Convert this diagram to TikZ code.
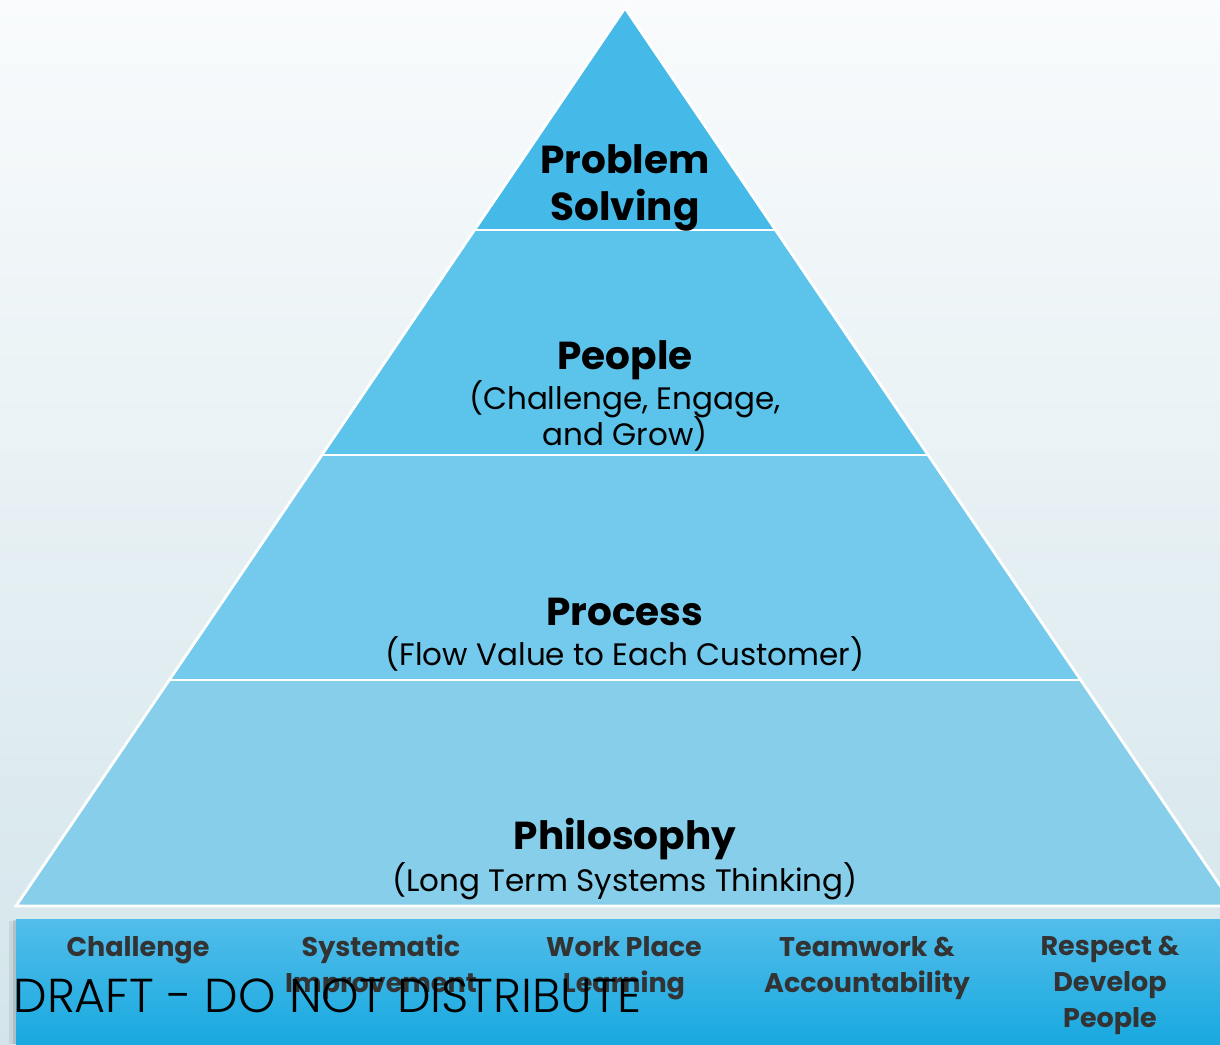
\documentclass[tikz,border=0pt]{standalone}
\usepackage{fontspec}
\setmainfont{Poppins}
\newfontfamily\draftfont{Poppins Light}
\usetikzlibrary{calc, positioning}
\definecolor{bgtop}{HTML}{F9FBFC}
\definecolor{bgbot}{HTML}{D3E5EB}
\definecolor{tierA}{HTML}{45B9E7}
\definecolor{tierB}{HTML}{5CC3EA}
\definecolor{tierC}{HTML}{74CAEC}
\definecolor{tierD}{HTML}{86CEEA}
\definecolor{bandtop}{HTML}{52BDEA}
\definecolor{bandbot}{HTML}{18A9E0}
\definecolor{labelgray}{HTML}{333333}

\begin{document}
\begin{tikzpicture}[x=0.5pt, y=-0.5pt,
    tier/.style={draw=white, line width=1.4pt},
    tiertitle/.style={font=\bfseries\fontsize{19.5}{23.5}\selectfont, align=center, inner sep=0pt},
    tiersub/.style={font=\fontsize{15.5}{17.5}\selectfont, align=center, inner sep=0pt},
    pillar/.style={font=\bfseries\fontsize{13.5}{18}\selectfont, text=labelgray, align=center, inner sep=0pt, anchor=north}]
    \useasboundingbox (0,0) rectangle (1220,1044);
    \clip (0,0) rectangle (1220,1044);
    \shade[top color=bgtop, bottom color=bgbot] (0,0) rectangle (1220,1044);

    % pyramid corners
    \coordinate (apex) at (625,8);
    \coordinate (bl) at (16,906);
    \coordinate (br) at (1234,906);
    \coordinate (l1) at ($(apex)!0.2472!(bl)$);
    \coordinate (r1) at ($(apex)!0.2472!(br)$);
    \coordinate (l2) at ($(apex)!0.4978!(bl)$);
    \coordinate (r2) at ($(apex)!0.4978!(br)$);
    \coordinate (l3) at ($(apex)!0.7483!(bl)$);
    \coordinate (r3) at ($(apex)!0.7483!(br)$);

    \fill[tierD] (l3) -- (r3) -- (br) -- (bl) -- cycle;
    \fill[tierC] (l2) -- (r2) -- (r3) -- (l3) -- cycle;
    \fill[tierB] (l1) -- (r1) -- (r2) -- (l2) -- cycle;
    \fill[tierA] (apex) -- (r1) -- (l1) -- cycle;
    \draw[tier] (apex) -- (br) -- (bl) -- cycle;
    \draw[tier] (l1) -- (r1);
    \draw[tier] (l2) -- (r2);
    \draw[tier] (l3) -- (r3);

    % tier labels
    \node[tiertitle] (problem) at (625,188) {Problem\\Solving};
    \node[tiertitle] (people) at (625,360) {People};
    \node[tiersub, below=0pt of people] (peoplesub) {(Challenge, Engage,\\[-1.5pt]and Grow)};
    \node[tiertitle] (process) at (625,612) {Process};
    \node[tiersub, below=5pt of process] (processsub) {(Flow Value to Each Customer)};
    \node[tiertitle] (philosophy) at (625,839) {Philosophy};
    \node[tiersub, below=0.8pt of philosophy] (philosophysub) {(Long Term Systems Thinking)};

    % bottom band
    \fill[black, opacity=0.07] (9,921) rectangle (1220,1044);
    \fill[black, opacity=0.10] (13,920) rectangle (1220,1044);
    \shade[top color=bandtop, bottom color=bandbot] (16,919) rectangle (1220,1044);

    \node[pillar] (challenge) at (138,936) {Challenge};
    \node[pillar] (systematic) at (381,934) {Systematic\\Improvement};
    \node[pillar] (workplace) at (624,936) {Work Place\\Learning};
    \node[pillar] (teamwork) at (867,936) {Teamwork \&\\Accountability};
    \node[pillar] (respect) at (1110,936) {Respect \&\\Develop\\People};

    \node[font=\draftfont\fontsize{23.8}{28}\selectfont, anchor=base west, inner sep=0pt] (draft) at (13,1012) {DRAFT - DO NOT DISTRIBUTE};
\end{tikzpicture}
\end{document}
